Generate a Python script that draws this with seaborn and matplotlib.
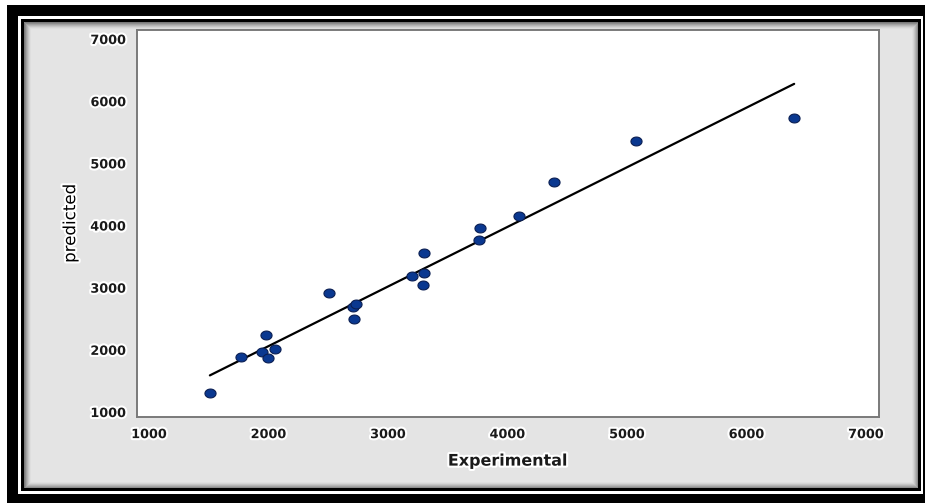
import numpy as np
import pandas as pd
import matplotlib
matplotlib.use("Agg")
import matplotlib.pyplot as plt
import seaborn as sns
from matplotlib.patches import Rectangle
from matplotlib.path import Path
import matplotlib.patheffects as pe

# Measured vs. model-predicted values
experimental = [1510, 1767, 1950, 1977, 2000, 2055, 2510, 2710, 2735, 2715,
                3200, 3300, 3300, 3290, 3770, 3760, 4100, 4390, 5080, 6400]
predicted = [1300, 1880, 1960, 2240, 1870, 2010, 2920, 2690, 2730, 2490,
             3180, 3560, 3230, 3050, 3960, 3770, 4150, 4700, 5360, 5730]
x_ticks = [1000, 2000, 3000, 4000, 5000, 6000, 7000]
y_ticks = [1000, 2000, 3000, 4000, 5000, 6000, 7000]

df = pd.DataFrame({"Experimental": experimental, "predicted": predicted})

W, H = 925, 503
sns.set_style("white")
plt.rcParams["font.family"] = ["DejaVu Sans"]

fig = plt.figure(figsize=(W / 100, H / 100), dpi=100)
fig.patch.set_facecolor("white")


def px_rect(x0, y0, x1, y1, **kw):
    """Rectangle given in pixel coordinates measured from the top-left corner."""
    r = Rectangle((x0 / W, 1 - y1 / H), (x1 - x0) / W, (y1 - y0) / H,
                  transform=fig.transFigure, **kw)
    fig.patches.append(r)
    return r


# Outer double border and grey panel with an inner shadow
px_rect(7, 5, 925, 503, facecolor="black", edgecolor="none", zorder=-5)
px_rect(18, 16, 923, 494, facecolor="white", edgecolor="none", zorder=-4.9)
px_rect(21, 19, 921, 491, facecolor="black", edgecolor="none", zorder=-4.8)
px_rect(24, 22, 918, 488, facecolor="#e4e4e4", edgecolor="none", zorder=-4.7)
for i in range(7):
    a = 0.45 * (1 - i / 7) ** 1.6
    px_rect(24 + i, 22 + i, 918 - i, 488 - i, facecolor="none",
            edgecolor=(0, 0, 0, a), linewidth=0.8, zorder=-4.6)

ax = fig.add_axes([137 / W, 1 - 417 / H, (879 - 137) / W, (417 - 30) / H])
ax.set_zorder(5)
ax.set_facecolor("white")

# Fitted regression line through the data
sns.regplot(data=df, x="Experimental", y="predicted", ax=ax, scatter=False,
            ci=None, line_kws=dict(color="black", linewidth=1.6, zorder=2))

# Slightly wide elliptical point marker
t = np.linspace(0, 2 * np.pi, 40)
ellipse = Path(np.column_stack([1.25 * np.cos(t), np.sin(t)]), closed=True)
sns.scatterplot(data=df, x="Experimental", y="predicted", ax=ax,
                marker=ellipse, s=64, color="#0a3890", edgecolor="#0a1e52",
                linewidth=0.8, zorder=3)

ax.set_xlim(900, 7110)
ax.set_ylim(920, 7145)
ax.set_xticks(x_ticks)
ax.set_yticks(y_ticks)

for s in ax.spines.values():
    s.set_color("#7a7a7a")
    s.set_linewidth(1.4)

ax.tick_params(axis="both", direction="out", length=5, width=1.2,
               color="#7a7a7a", labelsize=9.2, pad=3)
halo = [pe.withStroke(linewidth=3, foreground="white")]
for lab in ax.get_xticklabels() + ax.get_yticklabels():
    lab.set_fontweight("bold")
    lab.set_color("#1a1a1a")
    lab.set_path_effects(halo)

ax.set_xlabel("Experimental", fontsize=11.5, fontweight="bold", color="#1a1a1a",
              labelpad=9, path_effects=halo)
ax.set_ylabel("predicted", fontsize=12, color="black", labelpad=8,
              path_effects=halo)

fig.savefig("out.png", dpi=100, facecolor=fig.get_facecolor())
